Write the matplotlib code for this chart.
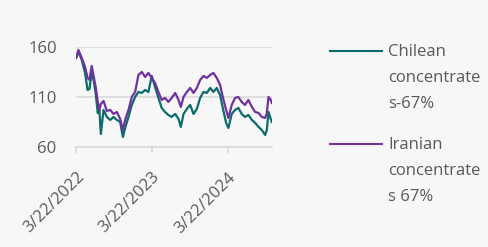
import pandas as pd
import matplotlib.pyplot as plt
from matplotlib.lines import Line2D

plt.rcParams['font.family'] = ['Open Sans', 'DejaVu Sans']

# Values
dates = ['2022-03-22', '2022-04-02', '2022-04-18', '2022-05-04', '2022-05-16', '2022-05-25',
         '2022-06-05', '2022-06-15', '2022-06-25', '2022-07-04', '2022-07-12', '2022-07-19',
         '2022-08-01', '2022-08-17', '2022-09-02', '2022-09-18', '2022-10-04', '2022-10-20',
         '2022-11-02', '2022-11-13', '2022-11-29', '2022-12-15', '2022-12-31', '2023-01-16',
         '2023-02-01', '2023-02-17', '2023-03-05', '2023-03-21', '2023-04-06', '2023-04-22',
         '2023-05-08', '2023-05-24', '2023-06-09', '2023-06-25', '2023-07-12', '2023-07-28',
         '2023-08-08', '2023-08-21', '2023-09-06', '2023-09-22', '2023-10-08', '2023-10-24',
         '2023-11-09', '2023-11-25', '2023-12-11', '2023-12-27', '2024-01-12', '2024-01-28',
         '2024-02-13', '2024-02-26', '2024-03-13', '2024-03-24', '2024-04-09', '2024-04-25',
         '2024-05-11', '2024-05-27', '2024-06-12', '2024-06-28', '2024-07-15', '2024-07-31',
         '2024-08-16', '2024-09-01', '2024-09-17', '2024-09-25', '2024-10-03', '2024-10-14',
         '2024-10-19']

chilean = [149, 155, 147, 134, 117, 118, 134, 126, 112, 94, 97, 73,
           97, 90, 87, 90, 87, 85, 70, 79, 90, 102, 110, 115,
           114, 117, 115, 131, 120, 109, 99, 95, 92, 90, 93, 88,
           80, 93, 98, 102, 93, 98, 109, 115, 114, 119, 115, 119,
           112, 99, 84, 79, 93, 97, 99, 93, 90, 92, 87, 84,
           80, 77, 72, 77, 95, 88, 85]

iranian = [149, 157, 149, 140, 129, 127, 141, 130, 119, 105, 97, 103,
           106, 96, 97, 93, 95, 88, 77, 87, 97, 110, 115, 132,
           135, 130, 134, 129, 124, 115, 107, 109, 105, 109, 114, 107,
           100, 110, 115, 119, 114, 119, 127, 131, 129, 132, 134, 129,
           122, 110, 97, 89, 102, 109, 110, 105, 102, 107, 100, 95,
           94, 90, 89, 94, 110, 107, 104]

labels = ['Chilean\nconcentrate\ns-67%', 'Iranian\nconcentrate\ns 67%']
colors = ['#0b6b69', '#7030a0']
tick_dates = ['2022-03-22', '2023-03-22', '2024-03-22']
tick_labels = ['3/22/2022', '3/22/2023', '3/22/2024']

x = pd.to_datetime(dates)
bg = '#f7f7f7'
txt = '#595959'
grid = '#d9d9d9'

fig = plt.figure(figsize=(4.88, 2.47), dpi=100, facecolor=bg)
ax = fig.add_axes([0.156, 0.405, 0.401, 0.405], facecolor=bg)

ax.plot(x, chilean, color=colors[0], linewidth=1.6)
ax.plot(x, iranian, color=colors[1], linewidth=1.6)

ax.set_ylim(60, 160)
ax.set_yticks([60, 110, 160])
ax.set_xlim(x[0], x[-1])
ax.set_xticks(pd.to_datetime(tick_dates))
ax.set_xticklabels(tick_labels, rotation=45, ha='right', rotation_mode='anchor')

ax.grid(axis='y', color=grid, linewidth=1.2)
for s in ['top', 'right', 'left']:
    ax.spines[s].set_visible(False)
ax.spines['bottom'].set_color(grid)
ax.spines['bottom'].set_linewidth(1.2)
ax.tick_params(axis='y', length=0, pad=14, labelsize=12, labelcolor=txt)
ax.tick_params(axis='x', length=4, width=1.2, color=grid, pad=12, labelsize=12, labelcolor=txt)

# legend, drawn by hand so the line sits on the first text line
for i, (lab, col) in enumerate(zip(labels, colors)):
    y0 = 1 - (51 + i * 93) / 247
    fig.add_artist(Line2D([330 / 488, 382 / 488], [y0, y0], color=col, linewidth=1.5,
                          transform=fig.transFigure))
    fig.text(388 / 488, y0 + 7 / 247, lab, color=txt, fontsize=12, va='top', ha='left',
             linespacing=1.85, transform=fig.transFigure)

plt.savefig('out.png', dpi=100, facecolor=bg)
